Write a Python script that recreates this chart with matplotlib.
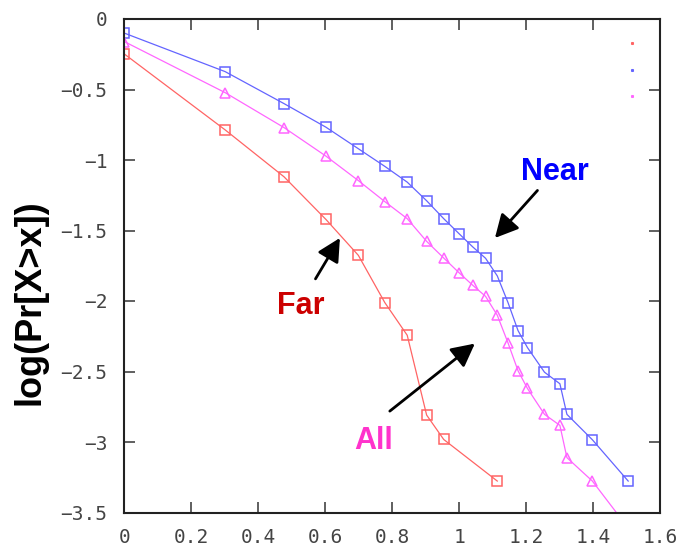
import matplotlib
matplotlib.use("Agg")
import matplotlib.pyplot as plt
from matplotlib.lines import Line2D

# ---- data (x = log10 of value, y = log10 of CCDF) ----
near_x = [0.0, 0.301, 0.477, 0.602, 0.699, 0.778, 0.845, 0.903, 0.954, 1.0, 1.041,
          1.079, 1.114, 1.146, 1.176, 1.204, 1.255, 1.301, 1.322, 1.398, 1.505]
near_y = [-0.10, -0.373, -0.60, -0.767, -0.92, -1.045, -1.157, -1.289, -1.416, -1.523, -1.617,
          -1.697, -1.822, -2.011, -2.21, -2.33, -2.505, -2.587, -2.804, -2.984, -3.277]

all_x = [0.0, 0.301, 0.477, 0.602, 0.699, 0.778, 0.845, 0.903, 0.954, 1.0, 1.041,
         1.079, 1.114, 1.146, 1.176, 1.204, 1.255, 1.301, 1.322, 1.398, 1.505]
all_y = [-0.16, -0.522, -0.77, -0.972, -1.146, -1.295, -1.416, -1.577, -1.695, -1.80, -1.889,
         -1.967, -2.101, -2.297, -2.495, -2.62, -2.804, -2.882, -3.111, -3.277, -3.61]

far_x = [0.0, 0.301, 0.477, 0.602, 0.699, 0.778, 0.845, 0.903, 0.954, 1.114]
far_y = [-0.248, -0.786, -1.119, -1.421, -1.676, -2.011, -2.243, -2.809, -2.982, -3.277]

x_ticks = [0, 0.2, 0.4, 0.6, 0.8, 1.0, 1.2, 1.4, 1.6]
x_ticklabels = ["0", "0.2", "0.4", "0.6", "0.8", "1", "1.2", "1.4", "1.6"]
y_ticks = [0, -0.5, -1, -1.5, -2, -2.5, -3, -3.5]
y_ticklabels = ["0", "-0.5", "-1", "-1.5", "-2", "-2.5", "-3", "-3.5"]

ylabel = "log(Pr[X>x])"
labels = {"near": "Near", "far": "Far", "all": "All"}

# ---- styles ----
c_near = "#6464ff"
c_all = "#ff66ff"
c_far = "#ff6464"

fig = plt.figure(figsize=(6.82, 5.49), dpi=100)
ax = fig.add_axes([124.3 / 682, 1 - 512.5 / 549, (660 - 124.3) / 682, (512.5 - 19) / 549])

ax.plot(near_x, near_y, color=c_near, lw=0.9, marker="s", ms=6.5, mfc="none",
        mec=c_near, mew=1.1)
ax.plot(all_x, all_y, color=c_all, lw=0.9, marker="^", ms=7, mfc="none",
        mec=c_all, mew=1.1)
ax.plot(far_x, far_y, color=c_far, lw=0.9, marker="s", ms=6.5, mfc="none",
        mec=c_far, mew=1.1)

ax.set_xlim(0, 1.6)
ax.set_ylim(-3.5, 0)

tickfont = {"family": "DejaVu Sans Mono", "size": 14}
ax.set_xticks(x_ticks)
ax.set_xticklabels(x_ticklabels, fontdict=tickfont, color="#444444")
ax.set_yticks(y_ticks)
ax.set_yticklabels([t.replace("-", "\u2212") for t in y_ticklabels], fontdict=tickfont,
                   color="#444444")
ax.tick_params(axis="both", direction="in", length=8, width=1.2, color="#444444",
               top=True, right=True)
ax.tick_params(axis="x", pad=11)
ax.tick_params(axis="y", pad=12)
for s in ax.spines.values():
    s.set_linewidth(1.5)
    s.set_color("#222222")

# legend remnants (tiny keys, empty labels)
handles = [Line2D([], [], ls="none", marker="s", ms=1.2, color=c_far),
           Line2D([], [], ls="none", marker="s", ms=1.2, color=c_near),
           Line2D([], [], ls="none", marker="s", ms=1.2, color=c_all)]
ax.legend(handles, ["", "", ""], loc="upper right", frameon=False, fontsize=14,
          handlelength=1, handletextpad=0, labelspacing=0.4, borderaxespad=0.2,
          bbox_to_anchor=(0.988, 0.992))

# annotations
afont = {"family": "Liberation Sans", "weight": "bold", "size": 22}
arrow = dict(arrowstyle="-|>,head_length=0.7,head_width=0.36", lw=2, color="black",
             mutation_scale=20, shrinkA=0, shrinkB=0)
ax.annotate("", xy=(1.107, -1.553), xytext=(1.234, -1.216), arrowprops=arrow)
ax.annotate("", xy=(0.644, -1.553), xytext=(0.571, -1.843), arrowprops=arrow)
ax.annotate("", xy=(1.047, -2.302), xytext=(0.793, -2.781), arrowprops=arrow)
ax.text(1.285, -1.145, labels["near"], color="#0000ff", ha="center", va="baseline", fontdict=afont)
ax.text(0.527, -2.089, labels["far"], color="#cc0000", ha="center", va="baseline", fontdict=afont)
ax.text(0.744, -3.052, labels["all"], color="#ff33cc", ha="center", va="baseline", fontdict=afont)

fig.text(29.5 / 682, 1 - 302 / 549, ylabel, rotation=90, ha="center", va="center",
         family="Liberation Sans", weight="bold", size=26)

fig.savefig("out.png", dpi=100)
